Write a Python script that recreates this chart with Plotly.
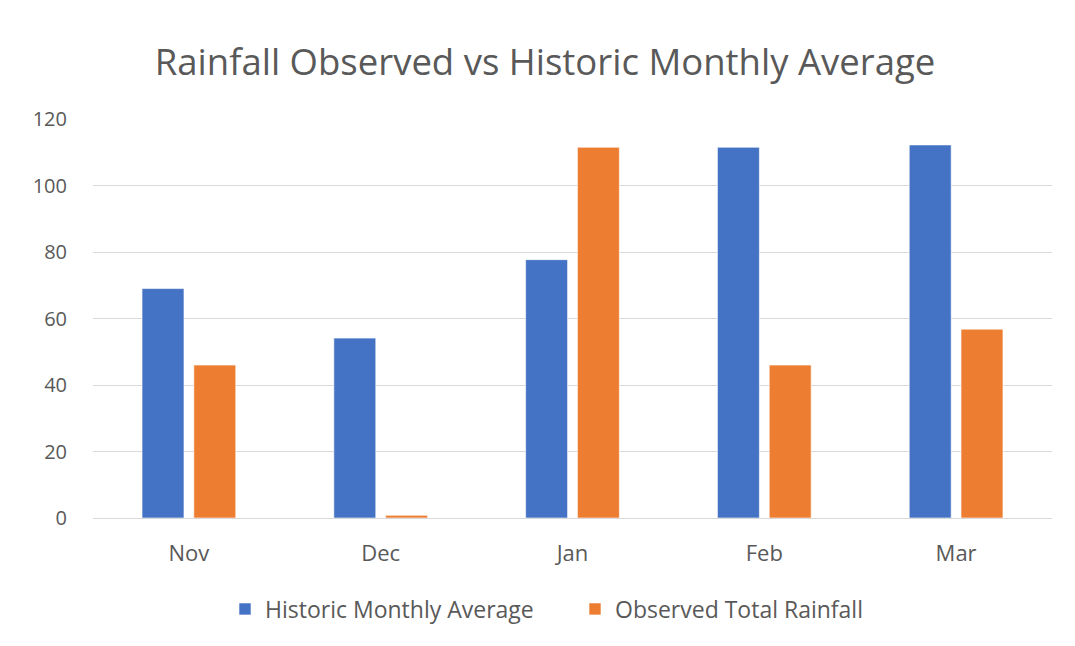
import plotly.graph_objects as go

months = ["Nov", "Dec", "Jan", "Feb", "Mar"]
historic_avg = [69.0, 54.1, 77.7, 111.5, 112.2]
observed_total = [46.0, 0.8, 111.5, 46.0, 56.8]
y_ticks = [0, 20, 40, 60, 80, 100, 120]

FONT = "Open Sans"
GRAY = "#595959"
OFF = 8  # page body margin offset

fig = go.Figure()
fig.add_trace(go.Bar(x=months, y=historic_avg, name="Historic Monthly Average",
                     marker=dict(color="#4472C4", line=dict(color="rgba(255,255,255,0.6)", width=1))))
fig.add_trace(go.Bar(x=months, y=observed_total, name="Observed Total Rainfall",
                     marker=dict(color="#ED7D31", line=dict(color="rgba(255,255,255,0.6)", width=1))))

W, H = 1075, 646
fig.update_layout(
    width=W, height=H,
    paper_bgcolor="white", plot_bgcolor="white",
    margin=dict(l=93 - OFF, r=23 + OFF, t=119 - OFF, b=128 + OFF, autoexpand=False),
    barmode="group", bargap=0.46, bargroupgap=0.19,
    title=dict(text="Rainfall Observed vs Historic Monthly Average",
               x=(545 - OFF) / W, xanchor="center", xref="container",
               y=1 - (62 - OFF) / H, yanchor="middle", yref="container",
               font=dict(family=FONT, size=36.5, color=GRAY)),
    font=dict(family=FONT, color=GRAY, size=20),
    legend=dict(orientation="h", x=(237 - OFF - 12) / W, xanchor="left", xref="container",
                y=1 - (609 - OFF) / H, yanchor="middle", yref="container",
                font=dict(family=FONT, size=23, color=GRAY),
                entrywidth=305, entrywidthmode="pixels",
                itemwidth=30, traceorder="normal"),
    xaxis=dict(showgrid=False, showline=False, ticks="", automargin=False,
               ticklabelstandoff=20, tickfont=dict(size=22, color=GRAY)),
    yaxis=dict(range=[0, 120], tickvals=y_ticks, showgrid=True, gridcolor="#D9D9D9", gridwidth=1.3,
               zeroline=True, zerolinecolor="#D9D9D9", zerolinewidth=1.3, automargin=False,
               ticks="", ticklabelstandoff=25, tickfont=dict(size=20, color=GRAY)),
)

fig.write_html("out.html")
